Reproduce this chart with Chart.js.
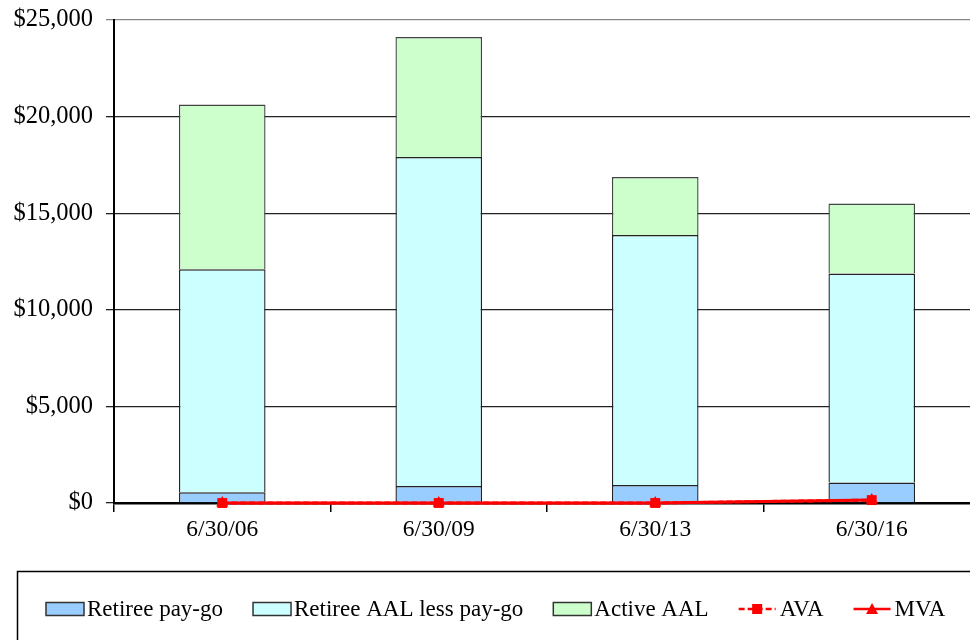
<!DOCTYPE html>
<html>
<head>
<meta charset="utf-8">
<script src="https://cdn.jsdelivr.net/npm/chart.js@4/dist/chart.umd.min.js"></script>
<style>
  html, body { margin: 0; padding: 0; background: #fff; overflow: hidden; }
  #wrap { position: absolute; left: 0; top: 0; width: 987px; height: 640px; }
</style>
</head>
<body>
<div id="wrap"><canvas id="c" width="987" height="640"></canvas></div>
<script>
// Valuation dates and liabilities / assets ($ thousands)
const categories = ['6/30/06', '6/30/09', '6/30/13', '6/30/16'];
const retireePayGo = [550, 880, 930, 1060];
const retireeAalLessPayGo = [11550, 17030, 12940, 10820];
const activeAal = [8520, 6210, 3000, 3620];
const ava = [0, 0, 0, 150];
const mva = [0, 0, 0, 150];
const yTicks = [0, 5000, 10000, 15000, 20000, 25000];

const FONT = '"Liberation Serif", "Times New Roman", serif';
const RED = '#FF0000';

// Boxed legend underneath the plot, drawn with the dataset styles
const boxedLegend = {
  id: 'boxedLegend',
  afterDraw(chart) {
    const ctx = chart.ctx;
    ctx.save();
    ctx.strokeStyle = '#000';
    ctx.lineWidth = 1.5;
    ctx.strokeRect(17.5, 571.5, chart.width + 20, 100);

    ctx.font = '23px ' + FONT;
    ctx.textBaseline = 'middle';
    ctx.fillStyle = '#000';
    const cy = 609;
    let x = 46;
    chart.data.datasets.forEach(ds => {
      if (ds.type === 'line') {
        ctx.strokeStyle = ds.borderColor;
        ctx.lineWidth = 2.5;
        ctx.setLineDash(ds.borderDash || []);
        ctx.beginPath();
        ctx.moveTo(x, cy); ctx.lineTo(x + 37, cy);
        ctx.stroke();
        ctx.setLineDash([]);
        ctx.fillStyle = ds.pointBackgroundColor;
        const mx = x + 18.5;
        if (ds.pointStyle === 'rect') {
          ctx.fillRect(mx - 5, cy - 5, 10, 10);
        } else {
          ctx.beginPath();
          ctx.moveTo(mx, cy - 6);
          ctx.lineTo(mx + 6, cy + 5);
          ctx.lineTo(mx - 6, cy + 5);
          ctx.closePath();
          ctx.fill();
        }
      } else {
        ctx.fillStyle = ds.backgroundColor;
        ctx.fillRect(x, cy - 6.5, 38, 13);
        ctx.strokeStyle = '#333';
        ctx.lineWidth = 1.5;
        ctx.strokeRect(x, cy - 6.5, 38, 13);
      }
      x += 41;
      ctx.fillStyle = '#000';
      ctx.fillText(ds.label, x, cy + 1);
      x += ctx.measureText(ds.label).width + 30;
    });
    ctx.restore();
  }
};

new Chart(document.getElementById('c'), {
  type: 'bar',
  data: {
    labels: categories,
    datasets: [
      { label: 'Retiree pay-go', data: retireePayGo, backgroundColor: '#99CCFF',
        borderColor: '#222', borderWidth: 1.4, stack: 'aal' },
      { label: 'Retiree AAL less pay-go', data: retireeAalLessPayGo, backgroundColor: '#CCFFFF',
        borderColor: '#222', borderWidth: 1.4, stack: 'aal' },
      { label: 'Active AAL', data: activeAal, backgroundColor: '#CCFFCC',
        borderColor: '#444', borderWidth: 1.4, stack: 'aal' },
      { type: 'line', label: 'AVA', data: ava, stack: 'ava', order: -2,
        borderColor: RED, borderWidth: 3, borderDash: [6, 3],
        pointStyle: 'rect', pointRadius: 7, pointBackgroundColor: RED, pointBorderColor: RED,
        pointBorderWidth: 0, clip: false },
      { type: 'line', label: 'MVA', data: mva, stack: 'mva', order: -1,
        borderColor: RED, borderWidth: 3,
        pointStyle: 'triangle', pointRadius: 7, pointBackgroundColor: RED, pointBorderColor: RED,
        pointBorderWidth: 0, clip: false }
    ]
  },
  options: {
    responsive: false,
    animation: false,
    devicePixelRatio: 1,
    layout: { padding: { top: 20, right: 4, left: 0, bottom: 0 } },
    datasets: { bar: { categoryPercentage: 1, barPercentage: 0.4 } },
    plugins: { legend: { display: false }, tooltip: { enabled: false } },
    scales: {
      x: {
        stacked: true,
        afterFit: s => { s.height = 137; s.paddingLeft = 0; s.paddingRight = 0; },
        grid: { drawOnChartArea: false, drawTicks: true, tickLength: 9, color: '#000', lineWidth: 1.5 },
        border: { display: true, color: '#000', width: 2.5 },
        ticks: { font: { family: FONT, size: 23.5 }, color: '#000', padding: 4 }
      },
      y: {
        stacked: true,
        min: 0, max: 25000,
        afterFit: s => { s.width = 114; s.paddingTop = 0; s.paddingBottom = 0; },
        afterBuildTicks: s => { s.ticks = yTicks.map(v => ({ value: v })); },
        grid: {
          tickLength: 8, lineWidth: 1.3,
          color: c => (c.tick && c.tick.value === 25000) ? '#888' : '#222'
        },
        border: { display: true, color: '#000', width: 2 },
        ticks: {
          font: { family: FONT, size: 24.5 }, color: '#000', padding: 13,
          callback: v => '$' + Number(v).toLocaleString('en-US')
        }
      }
    }
  },
  plugins: [boxedLegend]
});
</script>
</body>
</html>
